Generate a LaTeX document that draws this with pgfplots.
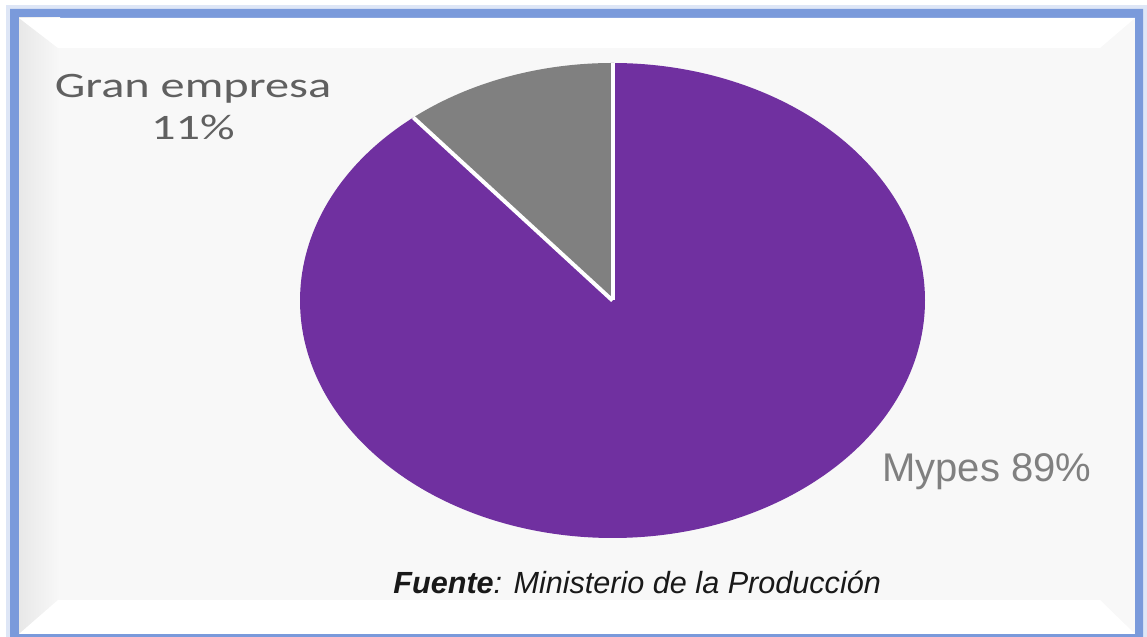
\documentclass[border=0pt]{standalone}
\usepackage{pgfplots}
\usepackage{pgfplotstable}
\pgfplotsset{compat=1.18}
\usepackage{graphicx}
\usepackage{fontspec}
\setmainfont{Liberation Sans}
\newfontfamily\carlito{Carlito}

\definecolor{mypurple}{HTML}{7030A0}
\definecolor{mygray}{HTML}{808080}
\definecolor{frameblue}{HTML}{7A9ADB}
\definecolor{labelgray}{HTML}{606060}
\definecolor{panel}{HTML}{F8F8F8}

% share of firms (percent)
\pgfplotstableread{
sector share
Mypes  89
Gran   11
}\sectors

\begin{document}
\begin{tikzpicture}
\pgfplotstablegetelem{1}{share}\of\sectors
\pgfmathsetmacro{\angB}{90+3.6*\pgfplotsretval}
\begin{axis}[
  hide axis,
  scale only axis,
  width=573.5bp, height=318.5bp,
  xmin=0, xmax=1147, ymin=0, ymax=637,
  clip=false,
]
% frame and panel
\fill[white] (axis cs:0,0) rectangle (axis cs:1147,637);
\fill[frameblue!25] (axis cs:6,0) rectangle (axis cs:1147,632);
\fill[frameblue, even odd rule] (axis cs:10,0) rectangle (axis cs:1143,628)
  (axis cs:19,3) rectangle (axis cs:1135,619);
\fill[panel] (axis cs:19,3) rectangle (axis cs:1135,619);
\shade[left color=gray!18, right color=panel] (axis cs:19,3) rectangle (axis cs:60,619);
\fill[white] (axis cs:19,619) -- (axis cs:1135,619) -- (axis cs:1100,589) -- (axis cs:58,589) -- cycle;
\fill[white] (axis cs:19,3) -- (axis cs:1135,3) -- (axis cs:1100,37) -- (axis cs:58,37) -- cycle;

% pie
\fill[mypurple] (axis cs:612.5,336.5) -- ++(\angB:156.25bp and 118.75bp)
  arc[start angle=\angB, end angle=450, x radius=156.25bp, y radius=118.75bp] -- cycle;
\fill[mygray] (axis cs:612.5,336.5) -- ++(90:156.25bp and 118.75bp)
  arc[start angle=90, end angle=\angB, x radius=156.25bp, y radius=118.75bp] -- cycle;
\draw[white, line width=2bp] (axis cs:612.5,336.5) -- ++(90:156.25bp and 118.75bp);
\draw[white, line width=2bp] (axis cs:612.5,336.5) -- ++(\angB:156.25bp and 118.75bp);

% labels
\node[anchor=base, inner sep=0, text=labelgray,
  font=\carlito\fontsize{17.9bp}{20bp}\selectfont]
  at (axis cs:193,539) {\scalebox{1.35}[1]{Gran empresa}};
\node[anchor=base, inner sep=0, text=labelgray,
  font=\carlito\fontsize{17.9bp}{20bp}\selectfont]
  at (axis cs:193,497) {\scalebox{1.35}[1]{11\%}};
\node[anchor=base west, inner sep=0, text=mygray,
  font=\fontsize{20bp}{24bp}\selectfont]
  at (axis cs:882,155) {Mypes 89\%};
\node[anchor=base west, inner sep=0, text=black!90,
  font=\itshape\fontsize{15.3bp}{18bp}\selectfont]
  at (axis cs:393,44) {\textbf{Fuente}: Ministerio de la Producción};
\end{axis}
\end{tikzpicture}
\end{document}
